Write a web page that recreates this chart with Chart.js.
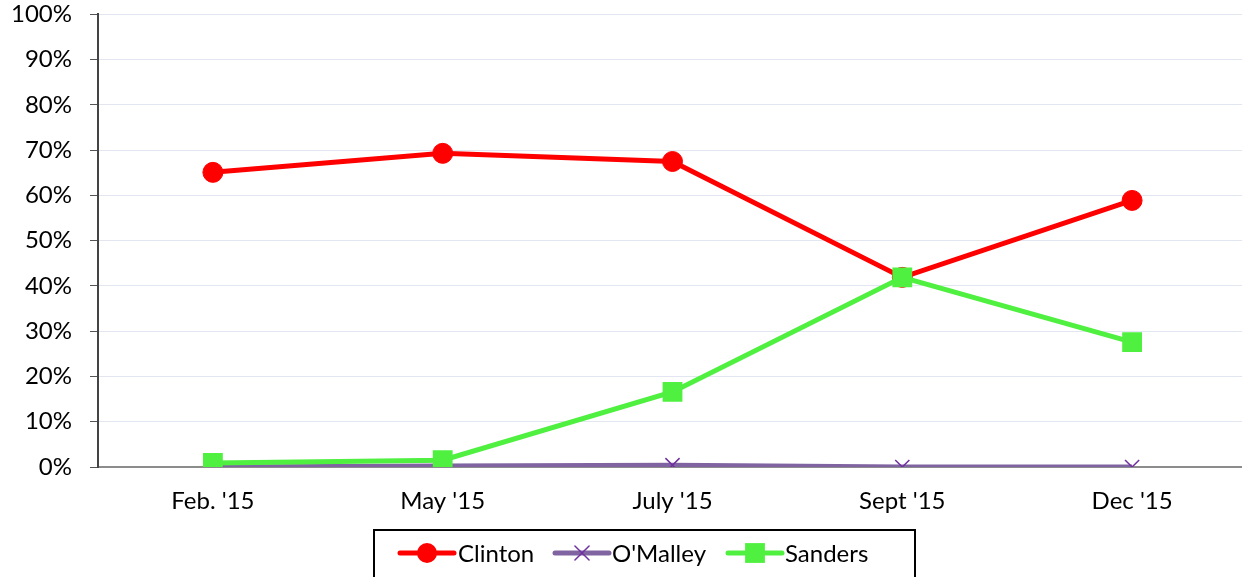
<!DOCTYPE html>
<html>
<head>
<meta charset="utf-8">
<script src="https://cdn.jsdelivr.net/npm/chart.js@4"></script>
<style>
  html, body { margin: 0; padding: 0; background: #fff; overflow: hidden; }
  #wrap { width: 1261px; height: 595px; margin-top: -18px; }
</style>
</head>
<body>
<div id="wrap"><canvas id="myChart" width="1261" height="595"></canvas></div>
<script>
const categories = ["Feb. '15", "May '15", "July '15", "Sept '15", "Dec '15"];
const clinton = [65.1, 69.3, 67.5, 41.9, 58.9];
const omalley = [0, 0.2, 0.4, 0, 0];
const sanders = [0.9, 1.5, 16.6, 41.9, 27.6];
const yTicks = [0, 10, 20, 30, 40, 50, 60, 70, 80, 90, 100];

const FONT = "Lato, 'Liberation Sans', sans-serif";
const SHIFT = 18; // canvas sits 18px above the window top

// legend drawn in a box under the axis, like the original
const boxLegend = {
  id: "boxLegend",
  afterDraw(chart) {
    const ctx = chart.ctx;
    ctx.save();
    ctx.strokeStyle = "#000";
    ctx.lineWidth = 2;
    ctx.strokeRect(374, 530 + SHIFT, 541, 60);

    const items = [
      { x: 400, textX: 458 },
      { x: 555, textX: 612 },
      { x: 728, textX: 785 },
    ];
    const y = 553 + SHIFT;
    chart.data.datasets.forEach((ds, i) => {
      const it = items[i];
      const cx = it.x + 27;
      ctx.strokeStyle = ds.borderColor;
      ctx.lineWidth = 5;
      ctx.lineCap = "round";
      ctx.beginPath();
      ctx.moveTo(it.x, y);
      ctx.lineTo(it.x + 54, y);
      ctx.stroke();

      ctx.fillStyle = ds.pointBackgroundColor;
      ctx.strokeStyle = ds.pointBorderColor;
      ctx.lineWidth = ds.pointBorderWidth;
      ctx.beginPath();
      const r = ds.pointRadius;
      if (ds.pointStyle === "circle") {
        ctx.arc(cx, y, r, 0, Math.PI * 2);
        ctx.fill();
      } else if (ds.pointStyle === "rect") {
        const s = r * Math.SQRT1_2;
        ctx.fillRect(cx - s, y - s, 2 * s, 2 * s);
      } else {
        const o = r * Math.SQRT1_2;
        ctx.moveTo(cx - o, y - o);
        ctx.lineTo(cx + o, y + o);
        ctx.moveTo(cx - o, y + o);
        ctx.lineTo(cx + o, y - o);
        ctx.stroke();
      }
      ctx.fillStyle = "#000";
      ctx.font = "24px " + FONT;
      ctx.textBaseline = "middle";
      ctx.textAlign = "left";
      ctx.fillText(ds.label, it.textX, y + 1);
    });
    ctx.restore();
  },
};

new Chart(document.getElementById("myChart"), {
  type: "line",
  data: {
    labels: categories,
    datasets: [
      {
        label: "Clinton",
        data: clinton,
        order: 2,
        borderColor: "#ff0000",
        backgroundColor: "#ff0000",
        pointBackgroundColor: "#ff0000",
        pointBorderColor: "#ff0000",
        pointStyle: "circle",
        pointRadius: 10,
        pointBorderWidth: 1,
        borderWidth: 5,
        tension: 0,
      },
      {
        label: "O'Malley",
        data: omalley,
        order: 1,
        borderColor: "#8064a2",
        backgroundColor: "#7030a0",
        pointBackgroundColor: "#7030a0",
        pointBorderColor: "#7030a0",
        pointStyle: "crossRot",
        pointRadius: 10,
        pointBorderWidth: 1.5,
        borderWidth: 5,
        tension: 0,
      },
      {
        label: "Sanders",
        data: sanders,
        order: 0,
        borderColor: "#4ff040",
        backgroundColor: "#4ff040",
        pointBackgroundColor: "#4ff040",
        pointBorderColor: "#4ff040",
        pointStyle: "rect",
        pointRadius: 14,
        pointBorderWidth: 0,
        borderWidth: 5,
        tension: 0,
      },
    ],
  },
  options: {
    responsive: false,
    animation: false,
    layout: { padding: { top: 0, right: 3, left: 0, bottom: 0 } },
    plugins: {
      legend: { display: false },
      tooltip: { enabled: false },
    },
    scales: {
      x: {
        offset: true,
        grid: { display: false, drawTicks: false },
        border: { display: true, color: "#8c8c8c", width: 2 },
        ticks: {
          color: "#000",
          font: { family: FONT, size: 24 },
          padding: 20,
          maxRotation: 0,
        },
        afterFit: (s) => { s.height = 110; },
      },
      y: {
        min: 0,
        max: 100,
        afterBuildTicks: (s) => { s.ticks = yTicks.map((v) => ({ value: v })); },
        grid: {
          color: "#e1e6f0",
          lineWidth: 1,
          tickLength: 8,
          tickColor: "#555",
        },
        border: { display: true, color: "#444", width: 2 },
        ticks: {
          color: "#000",
          font: { family: FONT, size: 24 },
          padding: 18,
          callback: (v) => v + "%",
        },
        afterFit: (s) => { s.width = 98; },
      },
    },
  },
  plugins: [boxLegend],
});
</script>
</body>
</html>
